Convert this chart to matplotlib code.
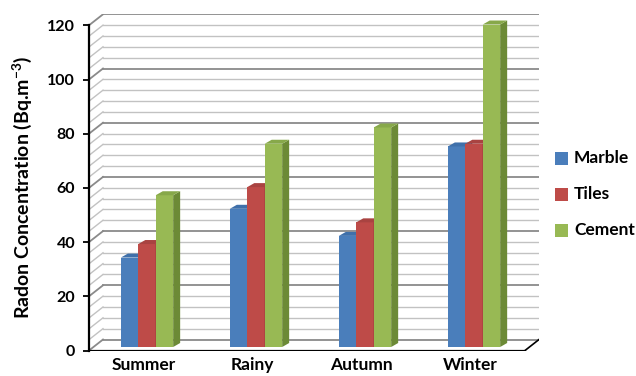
import matplotlib.pyplot as plt
from matplotlib.patches import Polygon, Rectangle

plt.rcParams['font.family'] = ['Lato', 'DejaVu Sans']
plt.rcParams['mathtext.fontset'] = 'custom'
plt.rcParams['mathtext.rm'] = 'Lato'
plt.rcParams['mathtext.bf'] = 'Lato:bold'

seasons = ["Summer", "Rainy", "Autumn", "Winter"]
series_names = ["Marble", "Tiles", "Cement"]
marble = [33, 51, 41, 74]
tiles = [38, 59, 46, 75]
cement = [56, 75, 81, 119]

front_colors = ["#4a7ebb", "#be4b48", "#98b954"]
side_colors = ["#2f5b8c", "#8a3533", "#6c8a36"]
top_colors = ["#3f70aa", "#a94341", "#87a84a"]

W, H = 636, 376
fig = plt.figure(figsize=(W / 100, H / 100), dpi=100)

# pixel geometry of the plot box
px_left, px_front_right, px_base = 89, 525, 350.5
px_per_cat = (px_front_right - px_left) / 4
px_per_unit = 2.71
wall_dx_px, wall_dy_px = 14, 11
DX = wall_dx_px / px_per_cat
DY = wall_dy_px / px_per_unit
ymax = 120 + DY

ax_w = px_front_right - px_left + wall_dx_px
ax_h = ymax * px_per_unit
ax = fig.add_axes([px_left / W, (H - px_base) / H, ax_w / W, ax_h / H])
ax.set_xlim(-0.5, 3.5 + DX)
ax.set_ylim(0, ymax)

# walls: back grid plus the left side diagonals
for v in range(0, 121, 4):
    major = v % 20 == 0
    c = "#8a8a8a" if major else "#c2c2c2"
    lw = 1.3 if major else 1.0
    ax.plot([-0.5 + DX, 3.5 + DX], [v + DY, v + DY], color=c, lw=lw, zorder=1)
    if v > 0:
        ax.plot([-0.5, -0.5 + DX], [v, v + DY], color=c, lw=lw, zorder=1)
ax.plot([-0.5, -0.5 + DX], [0, DY], color="#8a8a8a", lw=1.3, zorder=1)

# floor front edge and right diagonal
ax.plot([-0.5, 3.5], [0, 0], color="black", lw=1.6, zorder=2)
ax.plot([3.5, 3.5 + DX], [0, DY], color="black", lw=1.2, zorder=2)

# 3d-looking bars
w = 0.16
shift_x = 3.5 / px_per_cat
base = 3.5 / px_per_unit
bdx = 7 / px_per_cat
bdy = 4 / px_per_unit
for j, vals in enumerate([marble, tiles, cement]):
    xs = [i + (j - 1) * w + shift_x for i in range(len(seasons))]
    z = 3 + j
    ax.bar(xs, vals, width=w, bottom=base, color=front_colors[j],
           linewidth=0, zorder=z)
    for x, h in zip(xs, vals):
        r = x + w / 2
        l = x - w / 2
        top = base + h
        ax.add_patch(Polygon([(r, base), (r + bdx, base + bdy),
                              (r + bdx, top + bdy), (r, top)],
                             closed=True, facecolor=side_colors[j],
                             linewidth=0, zorder=z))
        ax.add_patch(Polygon([(l, top), (r, top), (r + bdx, top + bdy),
                              (l + bdx, top + bdy)],
                             closed=True, facecolor=top_colors[j],
                             linewidth=0, zorder=z))

for s in ["top", "right", "bottom"]:
    ax.spines[s].set_visible(False)
ax.spines["left"].set_bounds(0, 120)
ax.spines["left"].set_linewidth(1.6)
ax.spines["left"].set_zorder(10)

ax.set_yticks(range(0, 121, 20))
ax.tick_params(axis="y", direction="out", length=4, width=1.3, pad=6,
               labelsize=11.5)
for lab in ax.get_yticklabels():
    lab.set_fontweight("bold")

ax.set_xticks(range(len(seasons)))
ax.set_xticklabels(seasons, fontsize=12.5, fontweight="bold")
ax.tick_params(axis="x", length=0, pad=5)

fig.text(22 / W, 1 - 187 / H, r"Radon Concentration (Bq.m$^{\mathbf{-3}}$)",
         rotation=90, ha="center", va="center", fontsize=14,
         fontweight="bold")

# legend
for k, name in enumerate(series_names):
    cy = 158 + 36 * k
    fig.add_artist(Rectangle((555 / W, 1 - (cy + 6.5) / H), 13 / W, 13 / H,
                             transform=fig.transFigure,
                             facecolor=front_colors[k], linewidth=0))
    fig.text(574 / W, 1 - cy / H, name, ha="left", va="center",
             fontsize=12.5, fontweight="bold")

fig.savefig("out.png", dpi=100)
